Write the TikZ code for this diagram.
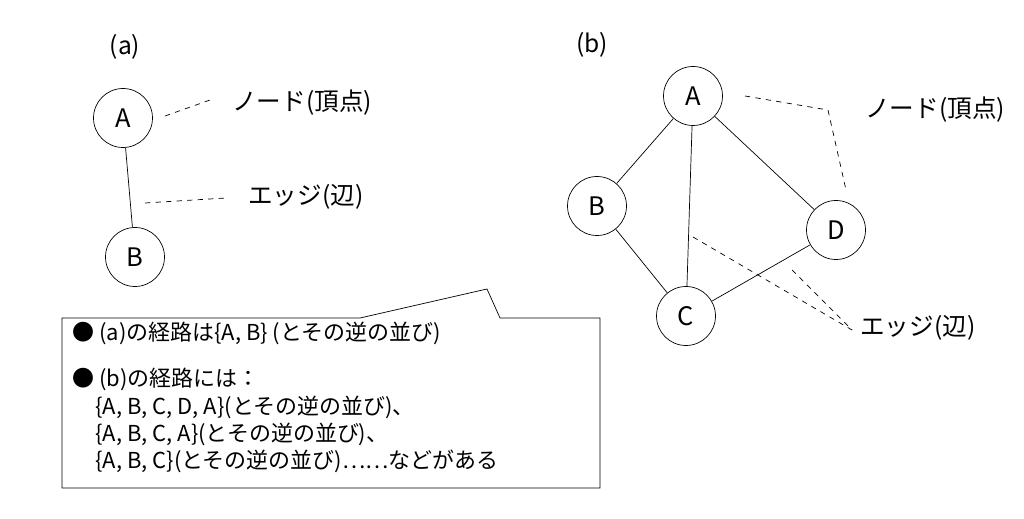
\documentclass[tikz,border=0pt]{standalone}
\usepackage{fontspec}
\setmainfont{Noto Sans CJK JP}
\usetikzlibrary{positioning}
\tikzset{
  vertex/.style={circle, draw=black, minimum size=1.18cm, inner sep=0pt, font=\fontsize{14.5}{17}\selectfont},
  lbl/.style={font=\fontsize{12.5}{15.5}\selectfont, inner sep=0pt},
  big/.style={font=\fontsize{14}{17}\selectfont, inner sep=0pt},
  guide/.style={dashed, thin}
}
\begin{document}
\begin{tikzpicture}[x=0.02cm, y=-0.02cm]
  \useasboundingbox (0,0) rectangle (1024,519);
  % (a)
  \node [big] (titlea) at (125,47) {(a)};
  \node [vertex] (aA) at (123,118) {A};
  \node [vertex] (aB) at (135,257) {B};
  \draw (aA) -- (aB);
  \node [big, anchor=west] (anode) at (232,103) {ノード(頂点)};
  \node [big, anchor=west] (aedge) at (248,197) {エッジ(辺)};
  \coordinate (an1) at (165,116);
  \coordinate (an2) at (210,100);
  \coordinate (ae1) at (145,203);
  \coordinate (ae2) at (226,198);
  \draw [guide] (an1) -- (an2);
  \draw [guide] (ae1) -- (ae2);
  % (b)
  \node [big] (titleb) at (592,45) {(b)};
  \node [vertex] (bA) at (693,96) {A};
  \node [vertex] (bB) at (597,206) {B};
  \node [vertex] (bD) at (836,230) {D};
  \node [vertex] (bC) at (686,316) {C};
  \draw (bA) -- (bB);
  \draw (bA) -- (bC);
  \draw (bA) -- (bD);
  \draw (bB) -- (bC);
  \draw (bC) -- (bD);
  \node [big, anchor=west] (bnode) at (865,110) {ノード(頂点)};
  \node [big, anchor=west] (bedge) at (860,328) {エッジ(辺)};
  \coordinate (bn1) at (745,96);
  \coordinate (bn2) at (828,110);
  \coordinate (bn3) at (846,190);
  \coordinate (be1) at (693,237);
  \coordinate (be2) at (792,270);
  \coordinate (be3) at (852,330);
  \draw [guide] (bn1) -- (bn2) -- (bn3);
  \draw [guide] (be1) -- (be3);
  \draw [guide] (be2) -- (be3);
  % callout
  \draw (62,318) -- (360,318) -- (487,289) -- (500,318) -- (600,318)
        -- (600,488) -- (62,488) -- cycle;
  \node [lbl, anchor=west] (line1) at (72,333) {● (a)の経路は\{A, B\} (とその逆の並び)};
  \node [lbl, anchor=north west, align=left] (line2) at (72,368)
    {● (b)の経路には：\\
     \hspace{1.05em}\{A, B, C, D, A\}(とその逆の並び)、\\
     \hspace{1.05em}\{A, B, C, A\}(とその逆の並び)、\\
     \hspace{1.05em}\{A, B, C\}(とその逆の並び)……などがある};
\end{tikzpicture}
\end{document}
